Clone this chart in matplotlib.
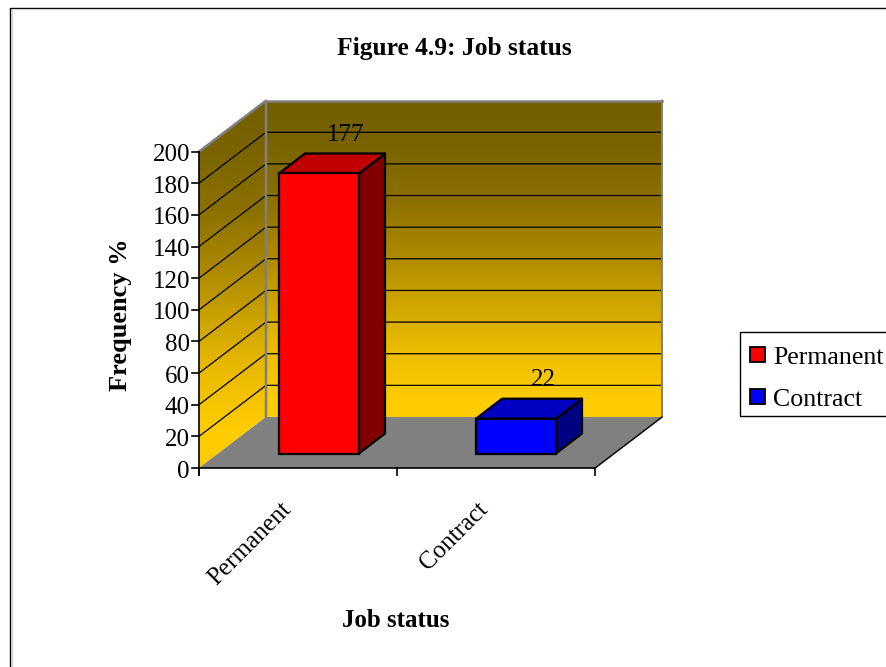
import numpy as np
import matplotlib.pyplot as plt
from matplotlib.colors import LinearSegmentedColormap
from matplotlib.patches import Polygon, Rectangle

categories = ['Permanent', 'Contract']
values = [177, 22]
yticks = [0, 20, 40, 60, 80, 100, 120, 140, 160, 180, 200]
face_colors = ['#ff0000', '#0000ff']
top_colors = ['#c00000', '#0000c0']
side_colors = ['#800000', '#000080']
wall_stops = [(0, '#736000'), (0.12, '#786200'), (0.33, '#8c7000'), (0.53, '#b08c00'),
	(0.67, '#cda400'), (0.8, '#e6b800'), (0.93, '#f8c600'), (1, '#ffcc00')]

# pixel layout of the 3d box
X0, X1 = 199, 595
Y0, PX_PER_UNIT = 468, 1.582
DX, DY = 67, -51
BAR_BASE = 453.5
BAR_W, BAR_DX, BAR_DY = 80, 26, -20
BAR_LEFT = [279, 476]
SERIF = 'Liberation Serif'


def ypos(v):
	return Y0 - v * PX_PER_UNIT


def wall(ax, pts, start, stop):
	# vertical brown to yellow gradient clipped to a polygon, solid yellow below stop
	poly = Polygon(pts, closed=True, fc='none', ec='none')
	ax.add_patch(poly)
	cmap = LinearSegmentedColormap.from_list('wall', wall_stops)
	ys = np.arange(0, 667)
	grad = np.clip((ys - start) / (stop - start), 0, 1).reshape(-1, 1)
	im = ax.imshow(grad, extent=[0, 887, 667, 0], aspect='auto', cmap=cmap, vmin=0, vmax=1, zorder=1)
	im.set_clip_path(poly)


fig = plt.figure(figsize=(8.87, 6.67), dpi=100)
ax = fig.add_axes([0, 0, 1, 1])

top_y = ypos(yticks[-1])
wall(ax, [(X0 + DX, top_y + DY), (X1 + DX, top_y + DY), (X1 + DX, Y0 + DY), (X0 + DX, Y0 + DY)], top_y + DY, 400)
wall(ax, [(X0, top_y), (X0 + DX, top_y + DY), (X0 + DX, Y0 + DY), (X0, Y0)], top_y + DY, 430)

# floor
ax.add_patch(Polygon([(X0, Y0), (X0 + DX, Y0 + DY), (X1 + DX, Y0 + DY), (X1, Y0)], fc='#808080', ec='none', zorder=2))

# gridlines on both walls
for t in yticks[1:-1]:
	y = ypos(t)
	ax.plot([X0, X0 + DX, X1 + DX], [y, y + DY, y + DY], color='black', lw=0.9, zorder=3, solid_joinstyle='miter')
ax.plot([X0 + DX, X1 + DX], [top_y + DY, top_y + DY], color='#808080', lw=1.8, zorder=3)
ax.plot([X0, X0 + DX, X0 + DX], [top_y, top_y + DY, Y0 + DY], color='#808080', lw=1.8, zorder=3)
ax.plot([X1 + DX, X1 + DX, X1], [top_y + DY, Y0 + DY, Y0], color='#808080', lw=1.4, zorder=3)

# axes and ticks
ax.plot([X0, X0], [top_y, Y0 + 7], color='black', lw=1.2, zorder=4)
ax.plot([X0, X1], [Y0, Y0], color='black', lw=1.2, zorder=4)
ax.plot([X1, X1 + DX], [Y0, Y0 + DY], color='black', lw=0.9, zorder=4)
for t in yticks:
	ax.plot([X0 - 7, X0], [ypos(t), ypos(t)], color='black', lw=1.2, zorder=4)
	ax.text(X0 - 9, ypos(t) + 1, str(t), ha='right', va='center_baseline', family=SERIF, fontsize=18, color='black')
mid = (X0 + X1) / 2
for x in [X0, mid, X1]:
	ax.plot([x, x], [Y0, Y0 + 7], color='black', lw=1.2, zorder=4)

# bars
for i, v in enumerate(values):
	l = BAR_LEFT[i]
	r = l + BAR_W
	top = BAR_BASE - v * PX_PER_UNIT
	ax.add_patch(Polygon([(r, top), (r + BAR_DX, top + BAR_DY), (r + BAR_DX, BAR_BASE + BAR_DY), (r, BAR_BASE)],
		fc=side_colors[i], ec='black', lw=1.6, zorder=5, joinstyle='round'))
	ax.add_patch(Polygon([(l, top), (l + BAR_DX, top + BAR_DY), (r + BAR_DX, top + BAR_DY), (r, top)],
		fc=top_colors[i], ec='black', lw=1.6, zorder=5, joinstyle='round'))
	ax.add_patch(Rectangle((l, top), BAR_W, v * PX_PER_UNIT, fc=face_colors[i], ec='black', lw=1.6, zorder=6))
	ax.text(l + 67, top + BAR_DY - 21, str(v), ha='center', va='center_baseline', family=SERIF, fontsize=18, color='black', zorder=7)

# rotated category labels
ax.text(280, 498, categories[0], rotation=45, rotation_mode='anchor', ha='right', va='top', family=SERIF, fontsize=18)
ax.text(477, 498, categories[1], rotation=45, rotation_mode='anchor', ha='right', va='top', family=SERIF, fontsize=18)

# titles
ax.text(454.5, 46, 'Figure 4.9: Job status', ha='center', va='center_baseline', family=SERIF, weight='bold', fontsize=18.4)
ax.text(396, 618, 'Job status', ha='center', va='center_baseline', family=SERIF, weight='bold', fontsize=18)
ax.text(121, 315, 'Frequency %', rotation=90, ha='center', va='center', family=SERIF, weight='bold', fontsize=19)

# legend
ax.add_patch(Rectangle((740.5, 331.5), 160, 84, fc='white', ec='black', lw=1.0, zorder=8))
for i, name in enumerate(categories):
	y = [354.5, 396.5][i]
	ax.add_patch(Rectangle((750.5, y - 7.5), 15, 15, fc=face_colors[i], ec='black', lw=1.3, zorder=9))
	ax.text(773, y + 1, name, ha='left', va='center_baseline', family=SERIF, fontsize=18.6, zorder=9)

# chart area border
ax.plot([10.5, 10.5, 900], [700, 7.5, 7.5], color='black', lw=1.0, zorder=10)
ax.plot([11.8, 11.8, 900], [700, 8.8, 8.8], color='#d0d0d0', lw=0.8, zorder=10)

ax.set_xlim(0, 887)
ax.set_ylim(667, 0)
ax.axis('off')
fig.savefig('out.png', dpi=100)
